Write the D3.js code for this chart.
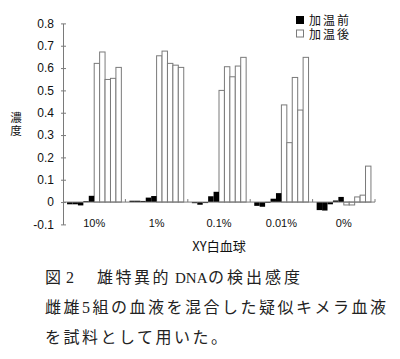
<!DOCTYPE html>
<html>
<head>
<meta charset="utf-8">
<script src="https://cdn.jsdelivr.net/npm/d3@7"></script>
<style>
  html, body { margin: 0; padding: 0; background: #fff; }
  svg { display: block; }
</style>
</head>
<body>
<svg id="chart" width="400" height="359"></svg>
<script>
// ---- data ----
const groups = ["10%", "1%", "0.1%", "0.01%", "0%"];
const seriesNames = ["加温前", "加温後"];
// 加温前 (before heating), five replicates per group
const beforeHeating = [
  [-0.010, -0.010, -0.015, 0.004, 0.028],
  [0.006, 0.006, 0.005, 0.020, 0.027],
  [-0.005, -0.012, -0.002, 0.026, 0.046],
  [-0.017, -0.021, 0.001, 0.015, 0.040],
  [-0.036, -0.038, -0.010, 0.007, 0.023]
];
// 加温後 (after heating)
const afterHeating = [
  [0.621, 0.672, 0.549, 0.554, 0.603],
  [0.655, 0.676, 0.621, 0.613, 0.603],
  [0.500, 0.606, 0.561, 0.609, 0.648],
  [0.435, 0.266, 0.558, 0.412, 0.648],
  [-0.013, -0.013, 0.023, 0.031, 0.161]
];
const yTickValues = [-0.1, 0, 0.1, 0.2, 0.3, 0.4, 0.5, 0.6, 0.7, 0.8];
const yTickLabels = ["-0.1", "0", "0.1", "0.2", "0.3", "0.4", "0.5", "0.6", "0.7", "0.8"];
const yTitle = "濃度";
const xTitle = "XY白血球";

(function () {
// ---- layout ----
const svg = d3.select("#chart");
const mLeft = 63, mRight = 375, mTop = 23.4, mBottom = 224.4;
const gray = "#7a7a7a";

const x0 = d3.scaleBand().domain(groups).range([mLeft, mRight])
  .paddingInner(0.13).paddingOuter(0.065);
const x1 = d3.scaleBand().domain(d3.range(10)).range([0, x0.bandwidth()]).padding(0);
const y = d3.scaleLinear().domain([-0.1, 0.8]).range([mBottom, mTop]);

// bars
const barData = [];
groups.forEach((g, gi) => {
  beforeHeating[gi].forEach((v, i) => barData.push({ g, idx: i, v, s: 0 }));
  afterHeating[gi].forEach((v, i) => barData.push({ g, idx: i + 5, v, s: 1 }));
});

svg.append("g").selectAll("rect")
  .data(barData.filter(d => d.s === 1))
  .join("rect")
  .attr("x", d => x0(d.g) + x1(d.idx))
  .attr("y", d => Math.min(y(d.v), y(0)))
  .attr("width", x1.bandwidth())
  .attr("height", d => Math.abs(y(d.v) - y(0)))
  .attr("fill", "#fff")
  .attr("stroke", gray)
  .attr("stroke-width", 1);

svg.append("g").selectAll("rect")
  .data(barData.filter(d => d.s === 0))
  .join("rect")
  .attr("x", d => x0(d.g) + x1(d.idx))
  .attr("y", d => Math.min(y(d.v), y(0)))
  .attr("width", x1.bandwidth())
  .attr("height", d => Math.max(1, Math.abs(y(d.v) - y(0))))
  .attr("fill", "#000");

// zero line (category axis)
svg.append("line")
  .attr("x1", mLeft).attr("x2", mRight)
  .attr("y1", y(0)).attr("y2", y(0))
  .attr("stroke", gray).attr("stroke-width", 1);

// group boundary ticks
svg.append("g").selectAll("line")
  .data(groups.map(g => x0(g) + x0.bandwidth() + x0.step() * x0.paddingInner() / 2))
  .join("line")
  .attr("x1", d => d).attr("x2", d => d)
  .attr("y1", y(0)).attr("y2", y(0) - 3)
  .attr("stroke", gray).attr("stroke-width", 1);

// y axis
const yAxis = d3.axisLeft(y)
  .tickValues(yTickValues)
  .tickFormat((d, i) => yTickLabels[i])
  .tickSizeOuter(0)
  .tickSizeInner(2)
  .tickPadding(7);
const ya = svg.append("g").attr("transform", `translate(${mLeft},0)`).call(yAxis);
ya.select(".domain").attr("stroke", gray);
ya.selectAll(".tick line").attr("stroke", gray).attr("x1", -2).attr("x2", 3);
ya.selectAll(".tick text")
  .attr("font-family", "'Liberation Sans', Arial, sans-serif")
  .attr("font-size", 12)
  .attr("fill", "#111");

// x category labels
svg.append("g").selectAll("text")
  .data(groups)
  .join("text")
  .attr("x", d => x0(d) + x0.bandwidth() / 2)
  .attr("y", 226.7)
  .attr("text-anchor", "middle")
  .attr("font-family", "'Liberation Sans', Arial, sans-serif")
  .attr("font-size", 11)
  .attr("fill", "#111")
  .text(d => d);

// y title (vertical writing)
svg.append("text")
  .attr("x", 16)
  .attr("y", 112)
  .style("writing-mode", "vertical-rl")
  .style("text-orientation", "upright")
  .attr("letter-spacing", 1.5)
  .attr("font-family", "'Noto Sans CJK JP', sans-serif")
  .attr("font-size", 11.5)
  .attr("fill", "#111")
  .text(yTitle);

svg.append("text")
  .attr("x", (mLeft + mRight) / 2)
  .attr("y", 251)
  .attr("text-anchor", "middle")
  .attr("font-family", "'Noto Sans CJK JP', sans-serif")
  .attr("font-size", 13)
  .attr("fill", "#111")
  .text(xTitle);

// legend
const lg = svg.append("g");
seriesNames.forEach((name, i) => {
  lg.append("rect")
    .attr("x", 296.5).attr("y", 16.5 + i * 13.5)
    .attr("width", 7).attr("height", 7)
    .attr("fill", i === 0 ? "#000" : "#fff")
    .attr("stroke", i === 0 ? "#000" : gray)
    .attr("stroke-width", 1);
  lg.append("text")
    .attr("x", 309).attr("y", 25 + i * 13.5)
    .attr("font-family", "'Liberation Sans', 'Noto Sans CJK JP', sans-serif")
    .attr("font-size", 12)
    .attr("letter-spacing", 2)
    .attr("fill", "#111")
    .text(name);
});

// caption
const cap = svg.append("g")
  .attr("font-family", "'Liberation Serif', 'Noto Sans CJK JP', serif")
  .attr("font-size", 16)
  .attr("fill", "#222");
const l1 = cap.append("text").attr("y", 283);
l1.append("tspan").attr("x", 45).text("図");
l1.append("tspan").attr("x", 66).text("2");
l1.append("tspan").attr("x", 97).attr("letter-spacing", 2.5).text("雄特異的");
l1.append("tspan").attr("x", 175).attr("font-size", 15).text("DNA");
l1.append("tspan").attr("x", 208).attr("letter-spacing", 3).text("の検出感度");
cap.append("text").attr("x", 45).attr("y", 313).attr("letter-spacing", 2.5)
  .text("雌雄5組の血液を混合した疑似キメラ血液");
cap.append("text").attr("x", 45).attr("y", 343).attr("letter-spacing", 2.5)
  .text("を試料として用いた。");
})();
</script>
</body>
</html>
